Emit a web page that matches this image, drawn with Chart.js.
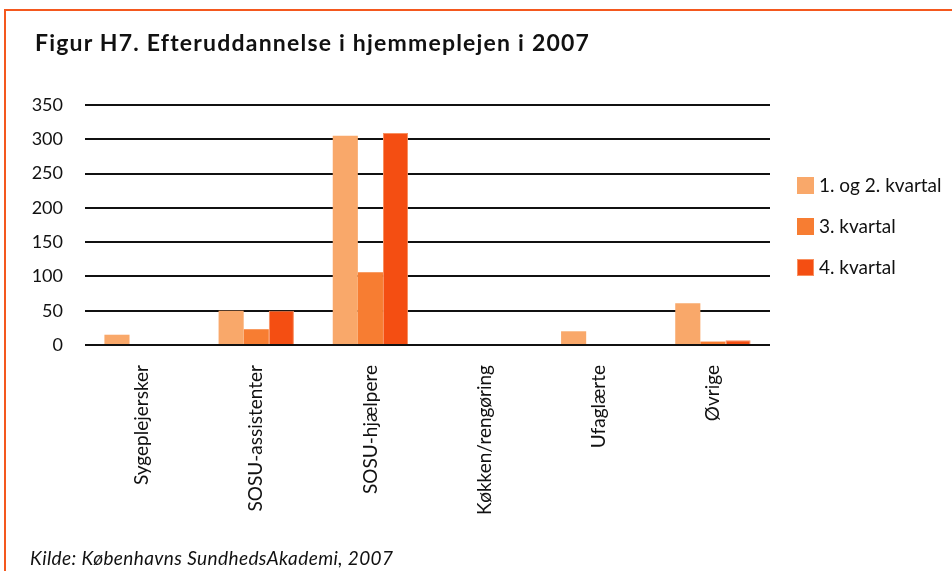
<!DOCTYPE html>
<html>
<head>
<meta charset="utf-8">
<script src="https://cdn.jsdelivr.net/npm/chart.js@4.4.1/dist/chart.umd.min.js"></script>
<style>
  html, body { margin: 0; padding: 0; background: #fff; overflow: hidden; }
  #page { position: relative; width: 952px; height: 571px; overflow: hidden; }
  #frame { position: absolute; left: 4px; top: 9px; width: 980px; height: 620px; border: 2px solid #F4581E; }
  #title { position: absolute; left: 35px; top: 28px; font: bold 23px Lato, sans-serif; letter-spacing: 1.2px; color: #111; white-space: nowrap; }
  #source { position: absolute; left: 30px; top: 546px; font: italic 19px Lato, sans-serif; letter-spacing: 0.4px; color: #111; white-space: nowrap; }
  #chart { position: absolute; left: 0; top: 0; }
</style>
</head>
<body>
<div id="page">
  <div id="frame"></div>
  <canvas id="chart" width="952" height="571"></canvas>
  <div id="title">Figur H7. Efteruddannelse i hjemmeplejen i 2007</div>
  <div id="source">Kilde: Københavns SundhedsAkademi, 2007</div>
</div>
<script>
const categories = ['Sygeplejersker', 'SOSU-assistenter', 'SOSU-hjælpere', 'Køkken/rengøring', 'Ufaglærte', 'Øvrige'];
const seriesNames = ['1. og 2. kvartal', '3. kvartal', '4. kvartal'];
const q12 = [15, 50, 305, 0, 20, 61];
const q3 = [0, 23, 106, 0, 0, 5];
const q4 = [0, 50, 309, 0, 0, 7];
const yTicks = [0, 50, 100, 150, 200, 250, 300, 350];

const colors = ['#F9A86A', '#F77D32', '#F44E12'];

// legend drawn by hand at the right side
const sideLegend = {
  id: 'sideLegend',
  afterDraw(chart) {
    const ctx = chart.ctx;
    ctx.save();
    ctx.font = '19px Lato, sans-serif';
    ctx.textBaseline = 'middle';
    chart.data.datasets.forEach((ds, i) => {
      const y = 185 + i * 41;
      ctx.fillStyle = ds.backgroundColor;
      ctx.fillRect(797, y - 8, 17, 17);
      if (ds.borderWidth) {
        ctx.strokeStyle = ds.borderColor;
        ctx.lineWidth = 1;
        ctx.strokeRect(797.5, y - 7.5, 16, 16);
      }
      ctx.fillStyle = '#111';
      ctx.fillText(ds.label, 819, y + 1);
    });
    ctx.restore();
  }
};

new Chart(document.getElementById('chart'), {
  type: 'bar',
  data: {
    labels: categories,
    datasets: [
      { label: seriesNames[0], data: q12, backgroundColor: colors[0], borderWidth: 0 },
      { label: seriesNames[1], data: q3, backgroundColor: colors[1], borderWidth: 0 },
      { label: seriesNames[2], data: q4, backgroundColor: colors[2], borderColor: '#F99060', borderWidth: 1 },
    ],
  },
  options: {
    responsive: false,
    animation: false,
    layout: { padding: { top: 105, right: 182, left: 0, bottom: 0 } },
    datasets: {
      bar: { categoryPercentage: 0.66, barPercentage: 1 },
    },
    plugins: {
      legend: { display: false },
      tooltip: { enabled: false },
    },
    scales: {
      x: {
        grid: { display: false, drawTicks: false },
        border: { display: false },
        ticks: {
          minRotation: 90,
          maxRotation: 90,
          padding: 20,
          color: '#111',
          font: { family: 'Lato, sans-serif', size: 19 },
        },
        afterFit(scale) { scale.height = 226; },
      },
      y: {
        min: 0,
        max: 350,
        grid: { color: '#111', lineWidth: 2, drawTicks: false },
        border: { display: false },
        afterBuildTicks(scale) { scale.ticks = yTicks.map((v) => ({ value: v })); },
        ticks: {
          padding: 22,
          color: '#111',
          font: { family: 'Lato, sans-serif', size: 18 },
        },
        afterFit(scale) { scale.width = 85; },
      },
    },
  },
  plugins: [sideLegend],
});
</script>
</body>
</html>
